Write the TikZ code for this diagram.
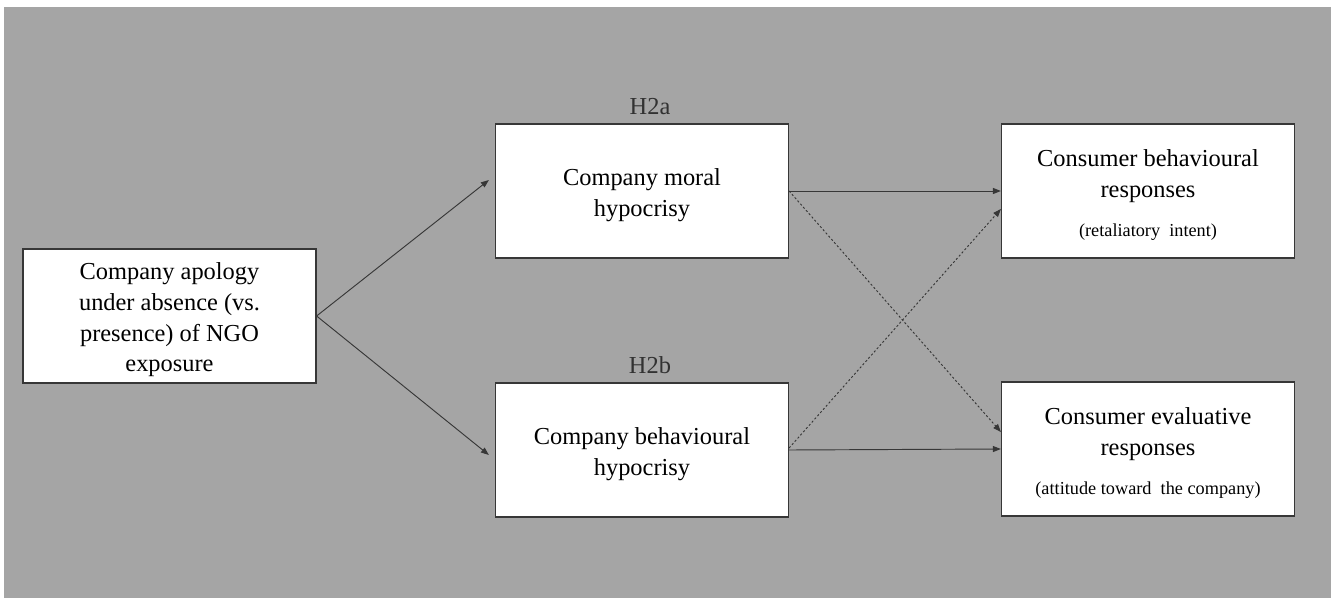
\documentclass[tikz,border=0pt]{standalone}
\usepackage{fontspec}
\setmainfont{Liberation Serif}
\usetikzlibrary{arrows.meta,positioning}
\definecolor{BgGray}{RGB}{165,165,165}
\definecolor{LineGray}{RGB}{55,55,55}
\definecolor{HypGray}{RGB}{50,50,50}
\tikzset{
  vbox/.style={draw=LineGray,line width=0.9pt,fill=white,minimum width=219.75pt,minimum height=100.5pt,inner sep=0pt,align=center,font=\fontsize{18.3pt}{23pt}\selectfont},
  hyp/.style={text=HypGray,inner sep=0pt,font=\fontsize{18.3pt}{22pt}\selectfont},
  arr/.style={-{Triangle[length=6pt,width=4.5pt]},LineGray,line width=0.7pt},
  darr/.style={arr,dash pattern=on 1.6pt off 1.6pt},
}
\newcommand{\subtxt}[1]{{\fontsize{13.7pt}{16pt}\selectfont #1}}
\newcommand{\topstrut}{\rule{0pt}{18.5pt}}

\begin{document}
\begin{tikzpicture}[x=0.75pt,y=-0.75pt]
    \useasboundingbox (0,0) rectangle (1331,598);
    \fill[BgGray] (4,7) rectangle (1331,598);
    \node[vbox] (apology) at (169.5,316) {\topstrut Company apology\\under absence (vs.\\presence) of NGO\\exposure};
    \node[vbox] (moral)   at (642,191)   {\topstrut Company moral\\hypocrisy};
    \node[vbox] (behav)   at (642,450)   {\topstrut Company behavioural\\hypocrisy};
    \node[vbox] (retal)   at (1148,191)  {\topstrut Consumer behavioural\\responses\\[6pt]\subtxt{(retaliatory\ \ intent)}};
    \node[vbox] (attit)   at (1148,449)  {\topstrut Consumer evaluative\\responses\\[6pt]\subtxt{(attitude toward\ \ the company)}};
    \node[hyp] (h2a) at (650,107) {H2a};
    \node[hyp] (h2b) at (650,365) {H2b};
    \draw[arr] (apology.east) -- ([xshift=-4.5pt,yshift=8.25pt]moral.west);
    \draw[arr] (apology.east) -- ([xshift=-4.5pt,yshift=-3.75pt]behav.west);
    \draw[arr] (moral.east) -- (retal.west);
    \draw[arr] (behav.east) -- (attit.west);
    \draw[darr] (moral.east) -- ([yshift=12.75pt]attit.west);
    \draw[darr] ([yshift=1.5pt]behav.east) -- ([yshift=-13.5pt]retal.west);
  \end{tikzpicture}
\end{document}
